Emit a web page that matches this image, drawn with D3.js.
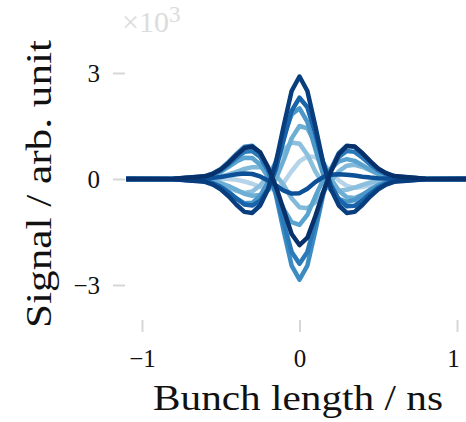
<!DOCTYPE html>
<html>
<head>
<meta charset="utf-8">
<script src="https://cdn.jsdelivr.net/npm/d3@7"></script>
<style>
	body { margin: 0; background: #fff; }
	text { font-family: "Liberation Serif", "DejaVu Serif", serif; }
</style>
</head>
<body>
<div id="chart"></div>
<script>
// bunch length axis, ns
const bunchLength = [-1.1, -0.8, -0.6, -0.55, -0.5, -0.45, -0.4, -0.35, -0.3, -0.25, -0.2, -0.15, -0.1, -0.05,
	0, 0.05, 0.1, 0.15, 0.2, 0.25, 0.3, 0.35, 0.4, 0.45, 0.5, 0.55, 0.6, 0.8, 1.1]

// signal, units of 10^3 (light to dark)
const signal06 = [0, -.001, .001, .002, .004, -.001, -.023, -.07, -.135, -.22, -.29, -.28, -.1, .22, .5, .64, .62, .44, .19, -.04, -.195, -.25, -.227, -.169, -.104, -.058, -.029, -.001, 0]
const signal05 = [0, -.002, -.04, -.08, -.145, -.24, -.335, -.395, -.355, -.185, .1, .46, .82, 1.035, 1, .685, .22, -.14, -.3, -.335, -.305, -.245, -.165, -.1, -.055, -.03, -.016, -.002, 0]
const signal08 = [0, .002, .02, .039, .072, .128, .204, .284, .336, .34, .268, .112, -.176, -.548, -.8, -.828, -.656, -.368, -.052, .22, .376, .404, .34, .24, .144, .079, .04, .002, 0]
const signal04 = [0, -.003, -.032, -.063, -.114, -.199, -.307, -.42, -.475, -.45, -.31, 0, .54, 1.15, 1.5, 1.43, 1.02, .48, .01, -.33, -.515, -.54, -.443, -.311, -.186, -.103, -.052, -.003, 0]
const signal09 = [0, .004, .057, .111, .203, .341, .493, .604, .594, .41, .056, -.388, -.856, -1.223, -1.3, -1.013, -.496, -.028, .296, .5, .564, .514, .391, .257, .149, .081, .042, .004, 0]
const signal03 = [0, -.004, -.064, -.125, -.227, -.382, -.551, -.685, -.675, -.475, -.08, .5, 1.22, 1.825, 2, 1.615, .86, .14, -.32, -.565, -.645, -.595, -.449, -.298, -.173, -.095, -.048, -.004, 0]
const signal12 = [0, .006, .08, .157, .285, .485, .713, .912, .941, .741, .285, -.456, -1.482, -2.451, -2.85, -2.451, -1.482, -.456, .285, .741, .941, .912, .713, .485, .285, .157, .08, .006, 0]
const signal11 = [0, .005, .067, .132, .24, .408, .6, .768, .792, .624, .24, -.384, -1.248, -2.064, -2.4, -2.064, -1.248, -.384, .24, .624, .792, .768, .6, .408, .24, .132, .067, .005, 0]
const signal02 = [0, -.005, -.056, -.12, -.22, -.37, -.55, -.72, -.75, -.62, -.29, .28, 1.11, 1.93, 2.3, 2.03, 1.29, .46, -.17, -.58, -.77, -.76, -.6, -.41, -.24, -.13, -.06, -.005, 0]
const signal07 = [0, .001, .016, .032, .058, .096, .134, .158, .142, .074, -.04, -.184, -.328, -.414, -.4, -.274, -.088, .056, .12, .134, .122, .098, .066, .04, .022, .012, .006, .001, 0]
const signal01 = [0, -.006, -.08, -.16, -.29, -.49, -.73, -.93, -.96, -.75, -.29, .46, 1.51, 2.49, 2.9, 2.49, 1.51, .46, -.29, -.75, -.96, -.93, -.73, -.49, -.29, -.16, -.08, -.006, 0]
const signal10 = [0, .006, .075, .147, .266, .456, .675, .875, .918, .752, .34, -.209, -.882, -1.555, -1.87, -1.661, -1.062, -.389, .22, .706, .934, .921, .727, .498, .294, .163, .083, .006, 0]

const signals = [signal06, signal05, signal08, signal04, signal09, signal03, signal12, signal11, signal02, signal07, signal01, signal10]
// position of each curve on the Blues colour map
const shades = [0.3, 0.42, 0.45, 0.5, 0.55, 0.6, 0.65, 0.72, 0.8, 0.88, 0.95, 1.0]

const xTicks = [-1, 0, 1]
const yTicks = [-3, 0, 3]

const width = 466
const height = 422

let svg = d3.select("#chart").append("svg")
	.attr("width", width)
	.attr("height", height)

let x = d3.scaleLinear().domain([-1, 1]).range([142, 457])
let y = d3.scaleLinear().domain([-3, 3]).range([285, 73])

// *** axes, ticks only ***
let xAxis = d3.axisBottom(x).tickValues(xTicks).tickFormat(d3.format("d")).tickSize(12).tickPadding(17)
let yAxis = d3.axisLeft(y).tickValues(yTicks).tickFormat(d3.format("d")).tickSize(12).tickPadding(13)

let gx = svg.append("g")
	.attr("transform", "translate(0,320)")
	.call(xAxis)
let gy = svg.append("g")
	.attr("transform", "translate(125,0)")
	.call(yAxis)

for (let g of [gx, gy]) {
	g.select(".domain").remove()
	g.selectAll(".tick line")
		.attr("stroke", "#d6d6d6")
		.attr("stroke-width", 2)
	g.selectAll(".tick text")
		.attr("fill", "#111")
		.style("font-size", "25px")
		.style("font-family", "'Liberation Serif', serif")
}
// last x label sits against the edge in the reference
gx.selectAll(".tick text").filter(d => d == 1).attr("dx", -4)

// *** curves ***
let line = d3.line()
	.x((d, i) => x(bunchLength[i]))
	.y(d => y(d))

svg.append("g")
	.selectAll("path")
	.data(signals)
	.enter().append("path")
	.attr("d", d => line(d))
	.attr("fill", "none")
	.attr("stroke", (d, i) => d3.interpolateBlues(shades[i]))
	.attr("stroke-width", 4.5)
	.attr("stroke-linejoin", "round")
	.attr("stroke-linecap", "butt")

// *** labels ***
svg.append("text")
	.attr("x", 153)
	.attr("y", 410)
	.attr("textLength", 290)
	.attr("lengthAdjust", "spacingAndGlyphs")
	.style("font-size", "36px")
	.attr("fill", "#111")
	.text("Bunch length / ns")

svg.append("text")
	.attr("transform", "translate(51,328) rotate(-90)")
	.attr("textLength", 288)
	.attr("lengthAdjust", "spacingAndGlyphs")
	.style("font-size", "36px")
	.attr("fill", "#111")
	.text("Signal / arb. unit")

let offset = svg.append("text")
	.attr("x", 122)
	.attr("y", 32)
	.attr("fill", "#dcdcdc")
	.style("font-size", "30px")
offset.append("tspan").text("×10")
offset.append("tspan")
	.attr("dy", -10)
	.style("font-size", "23px")
	.text("3")
</script>
</body>
</html>
